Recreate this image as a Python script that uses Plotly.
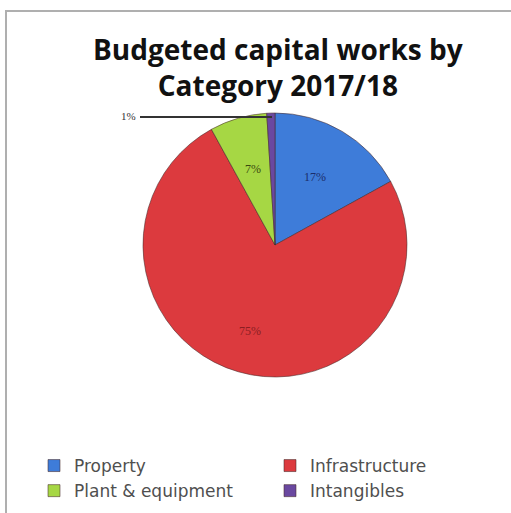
import math
import plotly.graph_objects as go

# Budgeted capital works by category, 2017/18 (share of total, %)
categories = ["Property", "Infrastructure", "Plant & equipment", "Intangibles"]
shares = [17, 75, 7, 1]
slice_colors = ["#3E7CD9", "#DC3A3E", "#A6D744", "#6A48A0"]
label_colors = ["#1B2E6B", "#8A1E22", "#3A4A10", "#333333"]

W, H = 511, 513

def px_x(v):
    return v / W

def px_y(v):
    return 1 - v / H

# pie placement in pixels
CX, CY, R = 275, 245, 132

fig = go.Figure(
    go.Pie(
        labels=categories,
        values=shares,
        sort=False,
        direction="clockwise",
        rotation=0,
        textinfo="none",
        marker=dict(colors=slice_colors, line=dict(color="rgba(70,40,40,0.55)", width=1)),
        domain=dict(x=[px_x(CX - R), px_x(CX + R)], y=[px_y(CY + R), px_y(CY - R)]),
        hoverinfo="label+percent",
    )
)

# percentage labels at each slice's mid-angle (clockwise from 12 o'clock)
total = sum(shares)
cum = 0
for i, v in enumerate(shares):
    mid = (cum + v / 2) / total * 2 * math.pi
    cum += v
    if v < 5:
        continue
    rr = R * (0.68 if v > 50 else 0.6)
    lx = CX + rr * math.sin(mid)
    ly = CY - rr * math.cos(mid)
    fig.add_annotation(
        x=px_x(lx), y=px_y(ly), xref="paper", yref="paper",
        text=f"{v}%", showarrow=False, xanchor="center", yanchor="middle",
        font=dict(family="Liberation Serif", size=12, color=label_colors[i]),
    )

# two-line bold title
fig.add_annotation(
    x=px_x(278), y=px_y(67), xref="paper", yref="paper",
    text="<b>Budgeted capital works by<br>Category 2017/18</b>", showarrow=False,
    xanchor="center", yanchor="middle", align="center",
    font=dict(family="Open Sans", size=28, color="#111111"),
)

# callout for the smallest slice
small_idx = shares.index(min(shares))
fig.add_annotation(
    x=px_x(138), y=px_y(116), xref="paper", yref="paper",
    text=f"{shares[small_idx]}%", showarrow=False, xanchor="right", yanchor="middle",
    font=dict(family="Liberation Serif", size=11, color="#333333"),
)
fig.add_shape(type="line", xref="paper", yref="paper",
              x0=px_x(140), x1=px_x(272), y0=px_y(117), y1=px_y(117),
              line=dict(color="#333333", width=2))

# chart frame (top and left edges)
fig.add_shape(type="line", xref="paper", yref="paper",
              x0=px_x(5), x1=1, y0=px_y(11), y1=px_y(11),
              line=dict(color="#AFAFAF", width=2))
fig.add_shape(type="line", xref="paper", yref="paper",
              x0=px_x(6), x1=px_x(6), y0=px_y(11), y1=0,
              line=dict(color="#AFAFAF", width=2))

fig.update_layout(
    width=W, height=H,
    margin=dict(l=0, r=0, t=0, b=0, autoexpand=False),
    paper_bgcolor="white",
    plot_bgcolor="white",
    showlegend=True,
    legend=dict(
        orientation="h",
        x=px_x(34), xanchor="left", y=px_y(448), yanchor="top",
        entrywidth=191, entrywidthmode="pixels",
        font=dict(family="DejaVu Sans", size=17, color="#4F4F4F"),
        itemwidth=30, tracegroupgap=0,
        traceorder="normal",
    ),
)

fig.write_html("out.html")
